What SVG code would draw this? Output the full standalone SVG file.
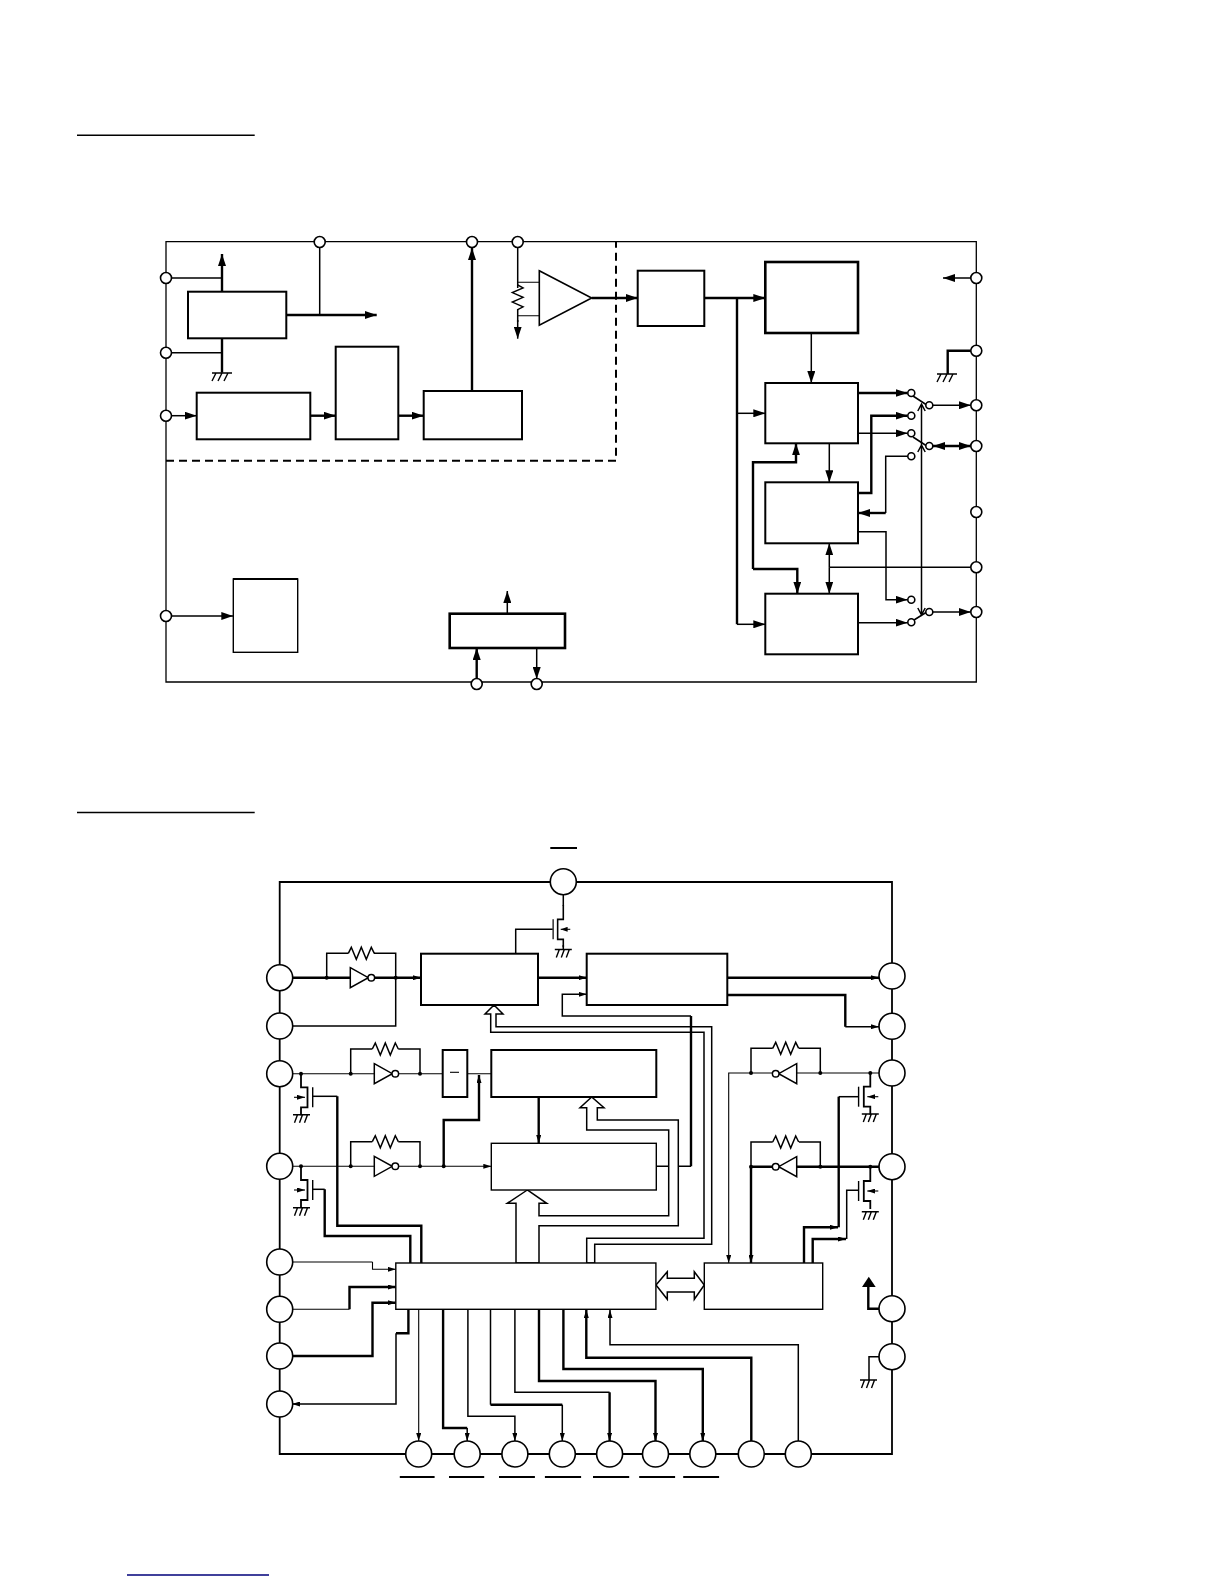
<svg xmlns="http://www.w3.org/2000/svg" width="1224" height="1584" viewBox="0 0 1224 1584">
<style>
.b{fill:#fff;stroke:#000;stroke-width:2}
.bt{fill:#fff;stroke:#000;stroke-width:2.6}
.bn{fill:#fff;stroke:#000;stroke-width:1.4}
.l,.m,.h,.r{fill:none;stroke:#000;stroke-linejoin:miter}
.l{stroke-width:1.1}
.m{stroke-width:1.5}
.h{stroke-width:2.4}
.p{fill:#fff;stroke:#000;stroke-width:1.6}
.a{marker-end:url(#ah)}
.s{marker-end:url(#as)}
.bus{fill:#fff;stroke:#000;stroke-width:1.5;stroke-linejoin:miter}
.j{fill:#000}
</style>
<defs>
<marker id="ah" markerUnits="userSpaceOnUse" markerWidth="12" markerHeight="8" refX="12" refY="4" orient="auto"><path d="M0 0L12 4L0 8z"/></marker>
<marker id="ahs" markerUnits="userSpaceOnUse" markerWidth="12" markerHeight="8" refX="0" refY="4" orient="auto"><path d="M12 0L0 4L12 8z"/></marker>
<marker id="as" markerUnits="userSpaceOnUse" markerWidth="8" markerHeight="5" refX="8" refY="2.500" orient="auto"><path d="M0 0L8 2.500L0 5z"/></marker>
<path id="gnd" d="M-10 0H10M-6 0L-10 8M0 0L-4 8M6 0L2 8" fill="none" stroke="#000" stroke-width="1.4"/>
<path id="gnds" d="M-8.500 0H8.500M-4 0L-7 8M1 0L-2 8M6 0L3 8" fill="none" stroke="#000" stroke-width="1.4"/>
<path id="res" d="M0 0L3 -6L8 6L13 -6L18 6L23 -6L26 0" fill="none" stroke="#000" stroke-width="1.5"/>
<g id="invR"><path d="M0 -10L18 0L0 10z" fill="#fff" stroke="#000" stroke-width="1.5"/><circle cx="21" cy="0" r="3.300" fill="#fff" stroke="#000" stroke-width="1.5"/></g>
<g id="mosL"><path d="M0 -14V0H6.500V20H0V28" fill="none" stroke="#000" stroke-width="1.8"/><path d="M11.700 0V20" stroke="#000" stroke-width="1.4"/><path d="M-7 10H4" stroke="#000" stroke-width="1.100" marker-end="url(#as)"/></g>
<g id="mosR"><path d="M0 -14V0H-6.500V20H0V28" fill="none" stroke="#000" stroke-width="1.8"/><path d="M-11.700 0V20" stroke="#000" stroke-width="1.4"/><path d="M8 10H-3" stroke="#000" stroke-width="1.100" marker-end="url(#as)"/></g>
</defs>
<g id="rules"><path d="M77 135.300H254.700M77 812.500H254.700" stroke="#000" stroke-width="1.4"/><path d="M127 1575H269" stroke="#00007a" stroke-width="1.700"/></g>

<g id="frame-top"><path d="M616 241.700H166V682H976.300V241.700H616" fill="none" stroke="#000" stroke-width="1.3"/><path d="M166 460.700H616V241.700" fill="none" stroke="#000" stroke-width="2" stroke-dasharray="8 5"/></g>

<g id="connectors-top">
<path class="m" d="M166 278H222M166 352.700H222M319.700 247V315"/>
<path class="h a" d="M222 291.700V254"/>
<path class="h" d="M222 338.300V372.700"/>
<path class="h a" d="M286.300 315H376.700"/>
<path class="m a" d="M171 415.700H196.700"/>
<path class="h a" d="M310.300 415.700H335.700"/>
<path class="h a" d="M398.300 415.700H423.700"/>
<path class="h a" d="M472 391V248"/>
<path class="m" d="M517.700 247V288M517.700 309V322"/>
<path class="m a" d="M517.700 320V338.700"/>
<path class="l" d="M517.700 282.300H539.300M517.700 315.700H539.300"/>
<path class="h a" d="M591.700 298H637.700"/>
<path class="h a" d="M704.300 298H765.300"/>
<path class="h" d="M737 298V624.300"/>
<path class="m a" d="M737 413.300H765.300"/>
<path class="m a" d="M737 624.300H765.300"/>
<path class="m a" d="M811.300 333V383"/>
<path class="m a" d="M829.300 443.300V482.300"/>
<path class="h a" d="M753 569V462.300H796V443.300"/>
<path class="h a" d="M753 569H797.300V593.700"/>
<path class="m a" d="M829.300 567.300V543.300"/>
<path class="m a" d="M829.300 567.300V593.700"/>
<path class="m" d="M829.300 567.300H971"/>
<path class="h a" d="M858 393H907.500"/>
<path class="h a" d="M858 493H871.300V415.700H907.500"/>
<path class="m a" d="M858 433.300H907.500"/>
<path class="m" d="M907.800 456.300H885.700V513"/>
<path class="h a" d="M885.700 513H858"/>
<path class="m a" d="M858 531.700H886V599.700H907.500"/>
<path class="m a" d="M858 622.700H907.500"/>
<path class="m a" d="M971 278H943"/>
<path class="h" d="M971 350.700H947.700V374"/>
<path class="m a" d="M933 405.300H970.800"/>
<path class="h a" d="M933 446H970.800" style="marker-start:url(#ahs)"/>
<path class="m a" d="M933 612H970.800"/>
<path class="m" d="M913 396L926 404.500M913 437L926 445.500M914 620L926 612.500"/>
<path class="m" d="M921.500 404V615M917.800 411L921.500 404L925.200 411M917.800 452L921.500 445L925.200 452M917.800 608L921.500 615L925.200 608"/>
</g>

<g id="gnd-top"><use href="#gnd" x="222" y="373"/><use href="#gnd" x="947" y="374"/></g>
<g id="t-a"><rect class="b" x="188" y="291.700" width="98.300" height="46.600"/></g>
<g id="t-b"><rect class="b" x="196.700" y="392.700" width="113.600" height="46.600"/></g>
<g id="t-c"><rect class="b" x="335.700" y="346.700" width="62.600" height="92.600"/></g>
<g id="t-d"><rect class="b" x="423.700" y="391" width="98.300" height="48.300"/></g>
<g id="t-res"><use href="#res" transform="translate(517.700 285) rotate(90) scale(.95 .9)"/></g>
<g id="t-amp"><path class="p" d="M539.300 270.700L591.700 298L539.300 325.300z"/></g>
<g id="t-e"><rect class="b" x="637.700" y="270.700" width="66.600" height="55.300"/></g>
<g id="t-f"><rect class="bt" x="765.300" y="262" width="92.700" height="71"/></g>
<g id="t-g"><rect class="b" x="765.300" y="383" width="92.700" height="60.300"/></g>
<g id="t-h"><rect class="b" x="765.300" y="482.300" width="92.700" height="61"/></g>
<g id="t-i"><rect class="b" x="765.300" y="593.700" width="92.700" height="60.600"/></g>
<g id="t-r"><rect class="bt" x="449.700" y="613.700" width="115.300" height="34.300"/></g>
<g id="t-l"><rect class="bn" x="233.300" y="579" width="64.400" height="73.300"/><path d="M233 579H298" stroke="#000" stroke-width="2.200"/></g>
<g id="t-conn2">
<path class="m a" d="M171 616H233.300"/>
<path class="m a" d="M507.300 613.700V591"/>
<path class="h a" d="M476.700 679V648"/>
<path class="m a" d="M536.700 648V679"/>
</g>
<g id="t-pins">
<circle class="p" cx="319.700" cy="242" r="5.500"/><circle class="p" cx="472" cy="242" r="5.500"/><circle class="p" cx="517.700" cy="242" r="5.500"/>
<circle class="p" cx="166" cy="278" r="5.500"/><circle class="p" cx="166" cy="352.700" r="5.500"/><circle class="p" cx="166" cy="415.700" r="5.500"/><circle class="p" cx="166" cy="616" r="5.500"/>
<circle class="p" cx="976.300" cy="278" r="5.500"/><circle class="p" cx="976.300" cy="350.700" r="5.500"/><circle class="p" cx="976.300" cy="405.300" r="5.500"/><circle class="p" cx="976.300" cy="446" r="5.500"/><circle class="p" cx="976.300" cy="512" r="5.500"/><circle class="p" cx="976.300" cy="567.300" r="5.500"/><circle class="p" cx="976.300" cy="612" r="5.500"/>
<circle class="p" cx="476.700" cy="684" r="5.500"/><circle class="p" cx="536.700" cy="684" r="5.500"/>
<circle class="p" cx="911.300" cy="393" r="3.500"/><circle class="p" cx="911.300" cy="415.700" r="3.500"/><circle class="p" cx="911.300" cy="433.300" r="3.500"/><circle class="p" cx="911.300" cy="456.300" r="3.500"/><circle class="p" cx="911.300" cy="599.700" r="3.500"/><circle class="p" cx="911.300" cy="622.300" r="3.500"/>
<circle class="p" cx="929.300" cy="405.300" r="3.500"/><circle class="p" cx="929.300" cy="446" r="3.500"/><circle class="p" cx="929.300" cy="612" r="3.500"/>
</g>

<g id="frame-bottom"><path d="M279.700 882H892V1454H279.700z" fill="none" stroke="#000" stroke-width="1.800"/><path d="M550.300 848H577M399.800 1477H434.600M449 1477H484.200M499 1477H534.900M544.900 1477H581.100M593 1477H629.200M639.200 1477H675.100M683.200 1477H719.100" stroke="#000" stroke-width="1.800"/></g>

<g id="connectors-bottom">
<path class="m" d="M515.700 953.700V929.300H552.700"/>
<path class="m" d="M563.300 894V906M563.300 945V949.500"/>
<path class="h s" d="M293 977.700H421"/>
<path class="m" d="M326.700 977.700V953.300H348.300M374 953.300H395.700V1026H293"/>
<path class="h s" d="M538 977.700H586.700"/>
<path class="m s" d="M691 1016H562.300V994.300H586.700"/>
<path class="m" d="M656.300 1166.300H668.700M678.300 1166.300H691"/>
<path class="h s" d="M727.300 977.700H879"/>
<path class="h" d="M727.300 995H845.300V1026.700"/>
<path class="m s" d="M845.300 1026.700H879"/>
<path class="l" d="M293 1073.700H442.700M467.300 1073.700H491.300"/>
<path class="m" d="M350.700 1073.700V1049H372.300M398.300 1049H420V1073.700"/>
<path class="l s" d="M293 1166.300H491.300"/>
<path class="m" d="M350.700 1166.300V1141.700H372.300M398.300 1141.700H420V1166.300"/>
<path class="h s" d="M443.700 1166.300V1120H479V1075"/>
<path class="h s" d="M538.700 1097V1143"/>
<path class="m" d="M312.700 1096.300H337.300"/>
<path class="h" d="M337.300 1096.300V1225.700H421.300V1263"/>
<path class="m" d="M312.700 1189.300H324.700"/>
<path class="h" d="M324.700 1189.300V1236H410.300V1263"/>
<path class="l" d="M292 1262H372.500"/>
<path class="l s" d="M372.500 1262V1269.300H395.800"/>
<path class="l" d="M292 1309.300H349.500"/>
<path class="h s" d="M349.500 1309.300V1287H395.800"/>
<path class="h s" d="M292 1356H372.500V1302.700H395.800"/>
<path class="h" d="M408.400 1309.300V1333.300H396"/>
<path class="m s" d="M396 1333.300V1404H292"/>
<path class="l s" d="M418.700 1309.300V1441"/>
<path class="h" d="M443.100 1309.300V1428H467.200"/>
<path class="m s" d="M467.200 1428V1441"/>
<path class="m s" d="M467.900 1309.300V1416.300H514.900V1441"/>
<path class="m" d="M490.500 1309.300V1404.700"/>
<path class="h" d="M490.500 1404.700H562.300"/>
<path class="m s" d="M562.300 1404.700V1441"/>
<path class="m" d="M514.900 1309.300V1392.300H609.600"/>
<path class="h s" d="M609.600 1392.300V1441"/>
<path class="h s" d="M539 1309.300V1381H655.500V1441"/>
<path class="h s" d="M563.400 1309.300V1369H702.800V1441"/>
<path class="h s" d="M751.300 1441V1357.700H586.300V1310"/>
<path class="m s" d="M798.300 1441V1344.700H610V1310"/>
<path class="l s" d="M879 1073H728.700V1263"/>
<path class="m" d="M751 1073V1048.300H772.700M799 1048.300H820.300V1073"/>
<path class="h" d="M879 1166.700H751"/>
<path class="h s" d="M751 1166.700V1263"/>
<path class="m" d="M751 1166.700V1142H772.700M799 1142H820.300V1166.700"/>
<path class="m" d="M858.300 1096.700H838.700"/>
<path class="h" d="M838.700 1096.700V1227.300"/>
<path class="h s" d="M804 1263V1227.300H838"/>
<path class="m" d="M858.300 1190.300H846.700V1239"/>
<path class="h s" d="M812.700 1263V1239H846"/>
<path class="h" d="M879 1308.700H868.300V1287"/>
<path d="M862 1287L868.800 1276.700L875.700 1287z"/>
<path class="m" d="M879 1356.700H869V1380"/>
</g>

<g id="b-buses">
<path class="bus" d="M494 1005L485 1014H490.700V1032.300H704V1238.300H586.700V1263H594.700V1244.300H711.700V1026.700H496V1014H503z"/>
<path class="bus" d="M527.300 1190L507.300 1203.300H516V1263H539V1225.700H678.300V1120H597.300V1107.700H604L591.700 1097L580 1107.700H586.700V1130H668.700V1215.700H539V1203.300H546.700z"/>
<path class="bus" d="M656 1285L667.300 1271.700V1278.300H694.300V1271.700L704.300 1285L694.300 1299.300V1292H667.300V1299.300z"/>
</g>
<g id="b-link"><path class="h" d="M691 1016V1166.300"/></g>

<g id="gnd-bottom"><use href="#gnds" x="563.300" y="949.500"/><use href="#gnds" x="301.500" y="1114.700"/><use href="#gnds" x="301.500" y="1207.700"/><use href="#gnds" x="870.300" y="1114"/><use href="#gnds" x="870.300" y="1211.700"/><use href="#gnds" x="868.500" y="1380"/></g>
<g id="b-mos"><use href="#mosR" transform="translate(563.300 919.300) scale(.87 1)"/><use href="#mosL" x="301" y="1087.300"/><use href="#mosL" x="301" y="1180"/><use href="#mosR" x="870.300" y="1086.700"/><use href="#mosR" x="870.300" y="1181"/></g>
<g id="b-res"><use href="#res" x="348.300" y="953.300"/><use href="#res" x="372.300" y="1049"/><use href="#res" x="372.300" y="1141.700"/><use href="#res" x="772.700" y="1048.300"/><use href="#res" x="772.700" y="1142"/></g>
<g id="b-inv"><use href="#invR" x="350.300" y="977.700"/><use href="#invR" x="374.300" y="1073.700"/><use href="#invR" x="374.300" y="1166.300"/><use href="#invR" transform="translate(796.700 1073.700) scale(-1 1)"/><use href="#invR" transform="translate(796.700 1166.700) scale(-1 1)"/></g>
<g id="b-junctions"><circle class="j" cx="326.700" cy="977.700" r="2"/><circle class="j" cx="395.700" cy="977.700" r="2"/><circle class="j" cx="301" cy="1073.700" r="2"/><circle class="j" cx="350.700" cy="1073.700" r="2"/><circle class="j" cx="420" cy="1073.700" r="2"/><circle class="j" cx="301" cy="1166.300" r="2"/><circle class="j" cx="350.700" cy="1166.300" r="2"/><circle class="j" cx="420" cy="1166.300" r="2"/><circle class="j" cx="443.700" cy="1166.300" r="2"/><circle class="j" cx="870.300" cy="1073" r="2"/><circle class="j" cx="820.300" cy="1073" r="2"/><circle class="j" cx="751" cy="1073" r="2"/><circle class="j" cx="870.300" cy="1166.700" r="2"/><circle class="j" cx="820.300" cy="1166.700" r="2"/><circle class="j" cx="751" cy="1166.700" r="2"/></g>

<g id="b-x"><rect class="b" x="421" y="953.700" width="117" height="51.300"/></g>
<g id="b-y"><rect class="b" x="586.700" y="953.700" width="140.600" height="51.300"/></g>
<g id="b-inv-box"><rect class="b" x="442.700" y="1050" width="24.600" height="47"/><path d="M450 1072.300H459" stroke="#000" stroke-width="1.100"/></g>
<g id="b-p"><rect class="b" x="491.300" y="1050" width="165" height="47"/></g>
<g id="b-q"><rect class="bn" x="491.300" y="1143.300" width="165" height="46.700"/></g>
<g id="b-main"><rect class="bn" x="395.800" y="1263" width="260.100" height="46.300"/></g>
<g id="b-right"><rect class="bn" x="704.300" y="1263" width="118.400" height="46.300"/></g>
<g id="b-pins">
<circle class="p" cx="563.300" cy="881.700" r="13"/>
<circle class="p" cx="279.700" cy="977.700" r="13"/><circle class="p" cx="279.700" cy="1026" r="13"/><circle class="p" cx="279.700" cy="1073.700" r="13"/><circle class="p" cx="279.700" cy="1166.300" r="13"/><circle class="p" cx="279.700" cy="1262" r="13"/><circle class="p" cx="279.700" cy="1309.300" r="13"/><circle class="p" cx="279.700" cy="1356" r="13"/><circle class="p" cx="279.700" cy="1404" r="13"/>
<circle class="p" cx="892" cy="976" r="13"/><circle class="p" cx="892" cy="1026.300" r="13"/><circle class="p" cx="892" cy="1073" r="13"/><circle class="p" cx="892" cy="1166.700" r="13"/><circle class="p" cx="892" cy="1308.700" r="13"/><circle class="p" cx="892" cy="1356.700" r="13"/>
<circle class="p" cx="418.700" cy="1454" r="13"/><circle class="p" cx="467.200" cy="1454" r="13"/><circle class="p" cx="514.900" cy="1454" r="13"/><circle class="p" cx="562.300" cy="1454" r="13"/><circle class="p" cx="609.600" cy="1454" r="13"/><circle class="p" cx="655.500" cy="1454" r="13"/><circle class="p" cx="702.800" cy="1454" r="13"/><circle class="p" cx="751.300" cy="1454" r="13"/><circle class="p" cx="798.300" cy="1454" r="13"/>
</g>
</svg>
